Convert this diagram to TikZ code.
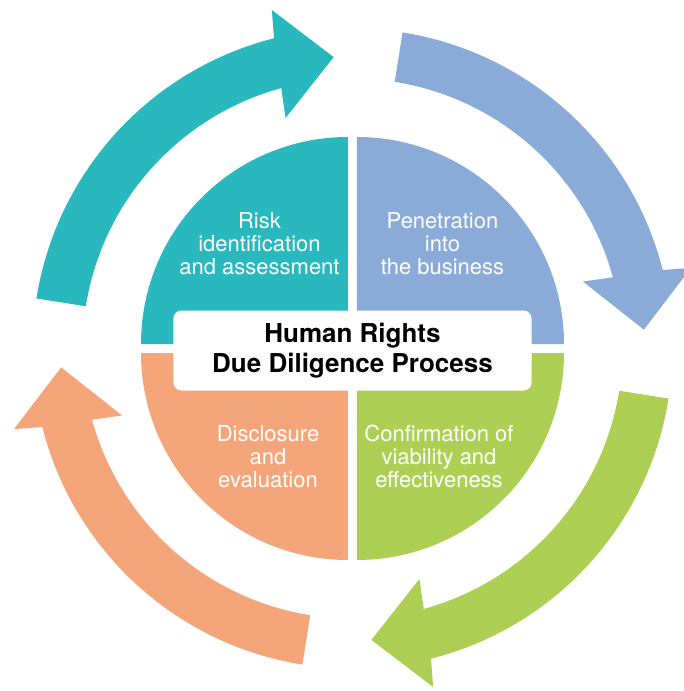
\documentclass[tikz,border=0pt]{standalone}
\usepackage{fontspec}
\setmainfont{TeX Gyre Heros}
\definecolor{riskcol}{RGB}{41,184,190}
\definecolor{penecol}{RGB}{138,170,216}
\definecolor{confcol}{RGB}{173,207,84}
\definecolor{disccol}{RGB}{244,166,122}
\begin{document}
\begin{tikzpicture}[x=1pt,y=1pt,
  steptext/.style={text=white, align=center, font=\fontsize{22}{23}\selectfont},
  corebox/.style={fill=white, rounded corners=8pt, minimum width=358pt, minimum height=80pt,
    align=center, font=\bfseries\fontsize{26}{30}\selectfont}]
  \def\rIn{270}
  \def\rOut{320}
  \def\rQ{207}
  \def\gap{4.5}
  \useasboundingbox (-352.5,-342.5) rectangle (331.5,348.5);
  \clip (-352.5,-342.5) rectangle (331.5,348.5);

  % Outer arrows, one per step, turned clockwise
  \foreach \col [count=\i from 0] in {riskcol,penecol,confcol,disccol} {
    \fill[\col, rotate=-90*\i] (171:\rOut) arc[start angle=171, end angle=104.2, radius=\rOut]
      -- (103.4:348) -- (93.7:292) -- (106.2:240) -- (105.3:\rIn)
      arc[start angle=105.3, end angle=171, radius=\rIn] -- cycle;
  }

  % Quarter discs
  \fill[riskcol] (-\gap,\gap) -- ++(-\rQ,0) arc[start angle=180, end angle=90, radius=\rQ] -- cycle;
  \fill[penecol] (\gap,\gap) -- ++(0,\rQ) arc[start angle=90, end angle=0, radius=\rQ] -- cycle;
  \fill[confcol] (\gap,-\gap) -- ++(\rQ,0) arc[start angle=0, end angle=-90, radius=\rQ] -- cycle;
  \fill[disccol] (-\gap,-\gap) -- ++(0,-\rQ) arc[start angle=270, end angle=180, radius=\rQ] -- cycle;

  % Centre box and step labels
  \node[corebox] (core) at (0,-2) {Human Rights\\Due Diligence Process};
  \node[steptext] (risk) at (-93,104.4) {Risk\\identification\\and assessment};
  \node[steptext] (pene) at (90,104.4) {Penetration\\into\\the business};
  \node[steptext] (conf) at (86.5,-108) {Confirmation of\\viability and\\effectiveness};
  \node[steptext] (disc) at (-84.5,-108) {Disclosure\\and\\evaluation};
\end{tikzpicture}
\end{document}
